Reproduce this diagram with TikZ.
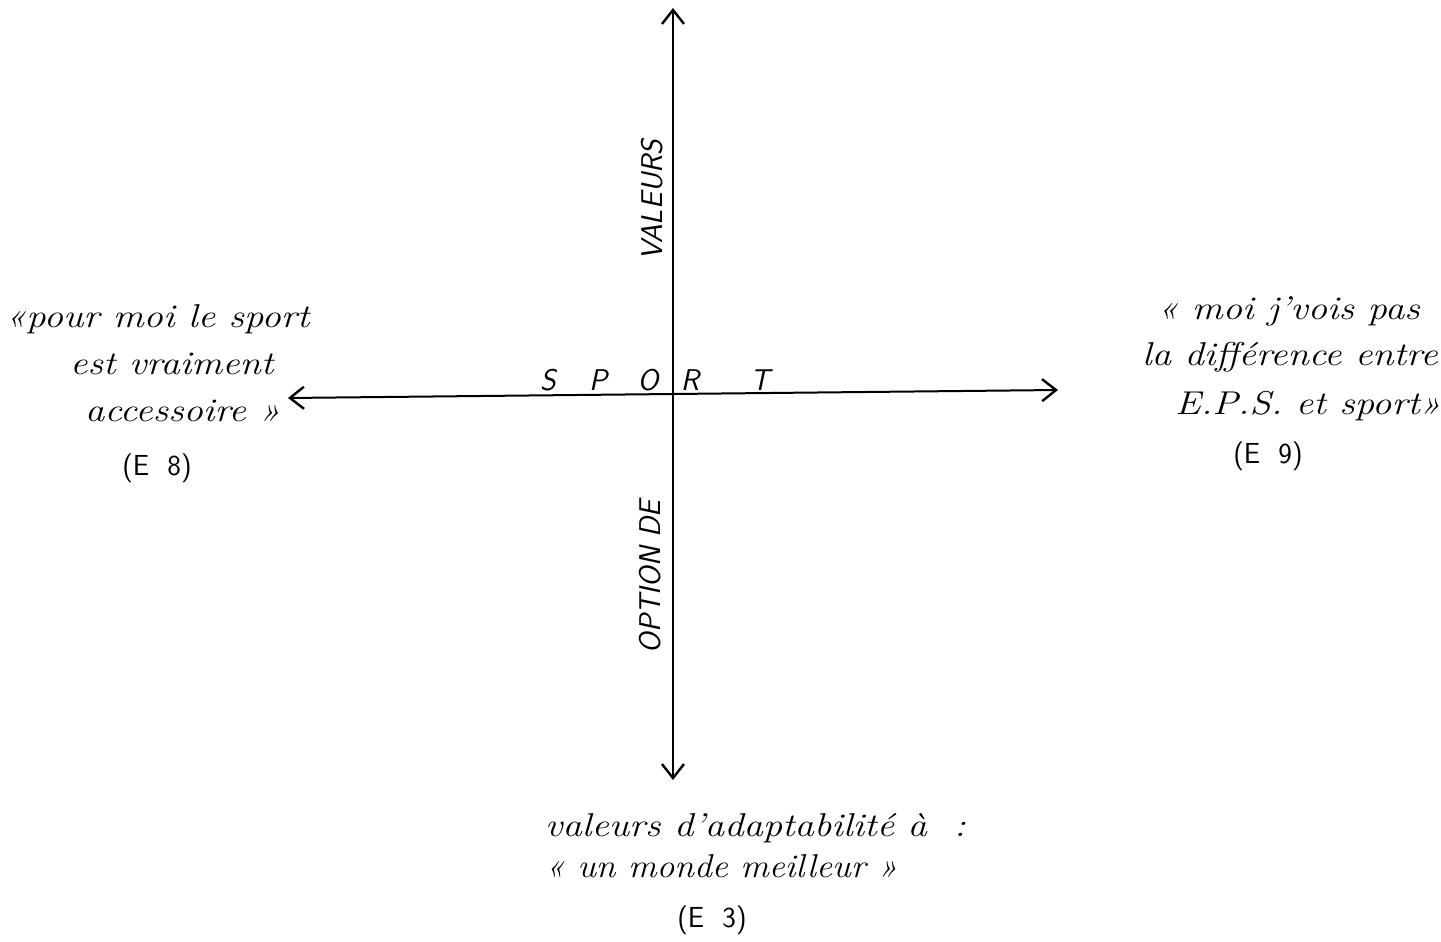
\documentclass[tikz,border=0pt]{standalone}
\usepackage{fontspec}
\usetikzlibrary{arrows.meta}
\newcommand\widetxt[1]{\scalebox{1.17}[1]{#1}}
\begin{document}
\begin{tikzpicture}[x=1pt,y=-1pt,
  axis/.style={line width=2pt,{Straight Barb[length=14pt,width=22pt,line width=2.4pt]}-{Straight Barb[length=14pt,width=22pt,line width=2.4pt]}},
  quote/.style={font=\fontsize{33}{36}\selectfont\itshape,inner sep=0pt,anchor=base west},
  caps/.style={font=\fontsize{30}{34}\selectfont\sffamily\itshape,inner sep=0pt},
  ref/.style={font=\fontsize{29}{32}\selectfont\sffamily,inner sep=0pt,anchor=base}]
\useasboundingbox (0,0) rectangle (1441,942);
\fill[white] (0,0) rectangle (1441,942);
% axes
\coordinate (top) at (673,8);
\coordinate (bot) at (673,780);
\coordinate (lft) at (288,398);
\coordinate (rgt) at (1058,390);
\draw[axis] (bot) -- (top);
\draw[axis] (lft) -- (rgt);
% axis labels
\node[caps,rotate=90] (valeurs) at (652,200) {VALEURS};
\node[caps,rotate=90] (option) at (650,577) {OPTION DE};
\node[caps] (s) at (548,380) {S};
\node[caps] (p) at (598,380) {P};
\node[caps] (o) at (648,380) {O};
\node[caps] (r) at (690,380) {R};
\node[caps] (t) at (760,380) {T};
% left quote
\node[quote] (l1) at (5,327) {\widetxt{\guillemotleft pour moi le sport}};
\node[quote] (l2) at (70,374) {\widetxt{est vraiment}};
\node[quote] (l3) at (85,421) {\widetxt{accessoire \guillemotright}};
\node[ref] (l4) at (157,475) {(E\ \ 8)};
% right quote
\node[quote] (r1) at (1157,319) {\widetxt{\guillemotleft\ moi j'vois pas}};
\node[quote] (r2) at (1142,365) {\widetxt{la diff\'erence entre}};
\node[quote] (r3) at (1175,414) {\widetxt{E.P.S. et sport\guillemotright}};
\node[ref] (r4) at (1268,463) {(E\ \ 9)};
% bottom quote
\node[quote] (b1) at (545,836) {\widetxt{valeurs d'adaptabilit\'e \`a \ :}};
\node[quote] (b2) at (545,877) {\scalebox{1.08}[1]{\guillemotleft\ un monde meilleur \guillemotright}};
\node[ref] (b3) at (712,927) {(E\ \ 3)};
\end{tikzpicture}
\end{document}
